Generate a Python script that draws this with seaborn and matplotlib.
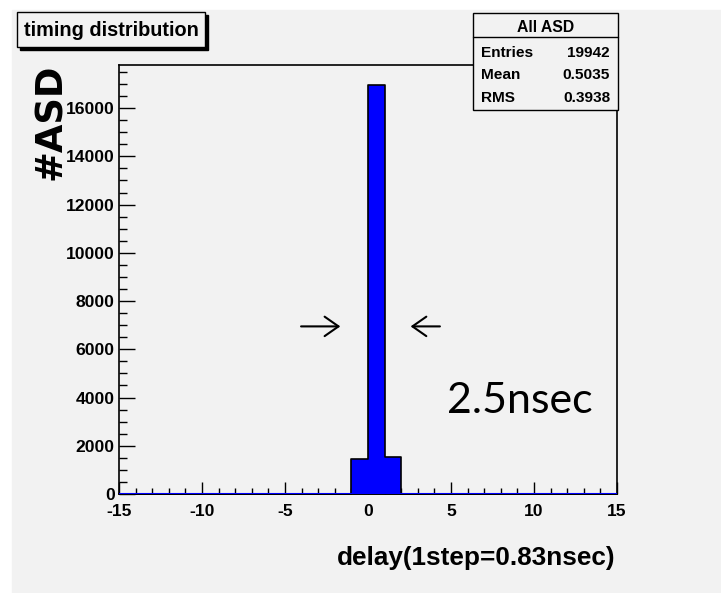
import seaborn as sns
import matplotlib.pyplot as plt
import pandas as pd
import numpy as np
from matplotlib.patches import Rectangle
from matplotlib.lines import Line2D
from matplotlib.ticker import MultipleLocator

# histogram contents (bin width = 1 step)
bin_lo = [-1, 0, 1]
counts = [1470, 16942, 1530]
x_range = (-15, 15)
stat_names = ['Entries', 'Mean', 'RMS']
stat_values = ['19942', '0.5035', '0.3938']

W, H = 721, 593
GRAY = '#f2f2f2'
FONT = ['Liberation Sans', 'DejaVu Sans']
K = 0.84  # original text is a squeezed Helvetica, scale sizes down to fit widths

sns.set_style('ticks')
plt.rcParams['font.family'] = FONT
plt.rcParams['font.weight'] = 'bold'
plt.rcParams['axes.unicode_minus'] = False
plt.rcParams['text.color'] = 'black'
plt.rcParams['xtick.color'] = 'black'
plt.rcParams['ytick.color'] = 'black'


def fx(px):
    return px / W


def fy(py):
    return 1 - py / H


def prect(x0, y0, x1, y1, **kw):
    '''rectangle in figure pixel coords (y measured from top)'''
    return Rectangle((fx(x0), fy(y1)), fx(x1) - fx(x0), fy(y0) - fy(y1),
                     transform=fig.transFigure, **kw)


df = pd.DataFrame({'delay': np.array(bin_lo) + 0.5, 'n': counts})

fig = plt.figure(figsize=(W / 100, H / 100), dpi=100, facecolor='white')
fig.patches.append(prect(12, 10, W, H, color=GRAY, zorder=-10))

ax = fig.add_axes([fx(119), fy(494), fx(617) - fx(119), fy(65) - fy(494)])
ax.set_facecolor(GRAY)
sns.histplot(data=df, x='delay', weights='n', binwidth=1, binrange=x_range,
             element='step', fill=True, color='blue', alpha=1,
             edgecolor='black', linewidth=1.2, ax=ax)
ax.axhline(0, color='blue', lw=1.5, zorder=3)
ax.set_xlim(*x_range)
ax.set_ylim(0, 1.05 * max(counts))
ax.set_xlabel('')
ax.set_ylabel('')

ax.xaxis.set_major_locator(MultipleLocator(5))
ax.xaxis.set_minor_locator(MultipleLocator(1))
ax.yaxis.set_major_locator(MultipleLocator(2000))
ax.yaxis.set_minor_locator(MultipleLocator(500))
ax.tick_params(which='both', direction='in', top=False, right=False,
               color='black', width=1)
ax.tick_params(axis='x', which='major', length=8.6, labelsize=15 * K, pad=7)
ax.tick_params(axis='x', which='minor', length=4.3)
ax.tick_params(axis='y', which='major', length=11.5, labelsize=15 * K, pad=3)
ax.tick_params(axis='y', which='minor', length=5.8)
for s in ax.spines.values():
    s.set_visible(True)
    s.set_color('black')
    s.set_linewidth(1.2)

# arrows marking the width
ax.annotate('', xy=(-1.5, 6950), xytext=(-4.2, 6950),
            arrowprops=dict(arrowstyle='->,head_length=0.5,head_width=0.35',
                            lw=1.5, color='black', mutation_scale=20))
ax.annotate('', xy=(2.4, 6950), xytext=(4.5, 6950),
            arrowprops=dict(arrowstyle='->,head_length=0.5,head_width=0.35',
                            lw=1.5, color='black', mutation_scale=20))
fig.text(fx(520), fy(413), '2.5nsec', family=['Lato', 'DejaVu Sans'],
         weight='normal', size=31, ha='center', va='baseline')

# axis titles
fig.text(fx(50), fy(122), '#ASD', rotation=90, family=['DejaVu Sans'],
         weight='bold', size=26.6, ha='center', va='center')
fig.text(fx(615), fy(565), 'delay(1step=0.83nsec)', size=22.4 * K,
         ha='right', va='baseline')

# title box with shadow
fig.patches.append(prect(20, 15, 208, 50, color='black', zorder=4))
fig.patches.append(prect(17, 12, 205, 47, facecolor=GRAY, edgecolor='black',
                         lw=1, zorder=5))
fig.text(fx(24), fy(30), 'timing distribution', size=17 * K, va='center',
         zorder=6)

# stats box
fig.patches.append(prect(473, 13, 618, 110, facecolor=GRAY, edgecolor='black',
                         lw=1, zorder=5))
fig.add_artist(Line2D([fx(473), fx(618)], [fy(37), fy(37)], color='black',
                      lw=1, transform=fig.transFigure, zorder=6))
fig.text(fx(545.5), fy(27), 'All ASD', size=13.5 * K, ha='center',
         va='center', zorder=6)
for i, (name, val) in enumerate(zip(stat_names, stat_values)):
    y = [53, 75, 98][i]
    fig.text(fx(481), fy(y), name, size=13.2 * K, ha='left', va='center',
             zorder=6)
    fig.text(fx(610), fy(y), val, size=13.2 * K, ha='right', va='center',
             zorder=6)

fig.savefig('out.png', dpi=100, facecolor='white')
